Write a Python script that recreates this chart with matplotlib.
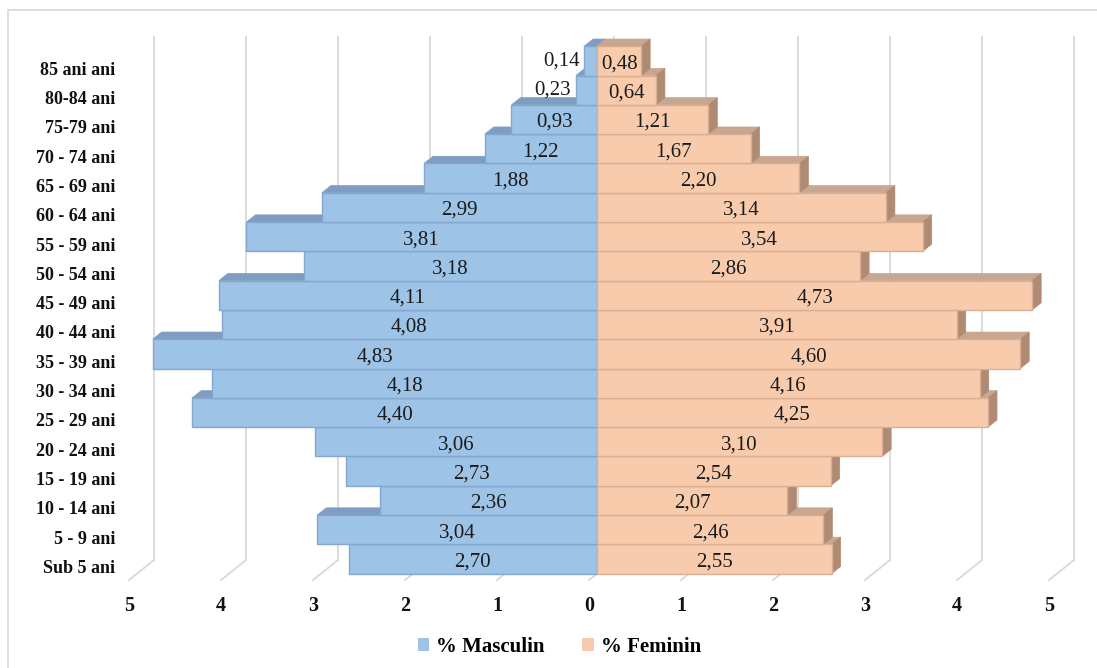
import matplotlib
matplotlib.use("Agg")
import matplotlib.pyplot as plt
from matplotlib.patches import Polygon, Rectangle, Patch

# Age groups, bottom to top
categories = ["Sub 5 ani", "5 - 9 ani", "10 - 14 ani", "15 - 19 ani", "20 - 24 ani",
              "25 - 29 ani", "30 - 34 ani", "35 - 39 ani", "40 - 44 ani", "45 - 49 ani",
              "50 - 54 ani", "55 - 59 ani", "60 - 64 ani", "65 - 69 ani", "70 - 74 ani",
              "75-79 ani", "80-84 ani", "85 ani ani"]
masculin = [2.70, 3.04, 2.36, 2.73, 3.06, 4.40, 4.18, 4.83, 4.08, 4.11,
            3.18, 3.81, 2.99, 1.88, 1.22, 0.93, 0.23, 0.14]
feminin = [2.55, 2.46, 2.07, 2.54, 3.10, 4.25, 4.16, 4.60, 3.91, 4.73,
           2.86, 3.54, 3.14, 2.20, 1.67, 1.21, 0.64, 0.48]
tick_values = [-5, -4, -3, -2, -1, 0, 1, 2, 3, 4, 5]
series_names = ["% Masculin", "% Feminin"]

# colours: front, top, side, edge
BLUE = ("#9DC3E6", "#7F9DC2", "#6F8DB3", "#84A7CF")
ORANGE = ("#F8CBAD", "#C9A68F", "#B08B74", "#D9AE93")
GRID = "#D9D9D9"

SERIF = "Liberation Serif"

fig = plt.figure(figsize=(10.97, 6.68), dpi=100)
ax = fig.add_axes([0, 0, 1, 1])
px_per_unit = 92.0
px_per_row = 29.3
x0_px, y0_px = 597.0, 559.0
ax.set_xlim(-x0_px / px_per_unit, (1097 - x0_px) / px_per_unit)
ax.set_ylim((y0_px - 668) / px_per_row, y0_px / px_per_row)
ax.axis("off")

# oblique depth: full depth vector (floor front -> back wall), in data units
DX, DY = 25 / px_per_unit, 20 / px_per_row
T_FRONT, T_BACK = 0.32, 0.68


def shift(t):
    """offset of depth t relative to the bars' front plane"""
    return (t - T_FRONT) * DX, (t - T_FRONT) * DY


n = len(categories)
# back wall gridlines and floor lines
wx, wy = shift(1.0)
fx, fy = shift(0.0)
y_bottom = -0.5
y_top = n - 0.5 + 0.34
for v in tick_values:
    ax.plot([v + wx, v + wx], [y_bottom + wy, y_top], color=GRID, lw=1.3, zorder=1,
            solid_capstyle="butt")
    ax.plot([v + wx, v + fx], [y_bottom + wy, y_bottom + fy], color=GRID, lw=1.3,
            zorder=1)

bx, by = shift(T_BACK)
z = 2
for i in range(n):
    lo, hi = i - 0.5, i + 0.5
    # male bar (extends left)
    m = -masculin[i]
    front, top, side, edge = BLUE
    ax.add_patch(Polygon([(m, hi), (0, hi), (bx, hi + by), (m + bx, hi + by)],
                         closed=True, fc=top, ec=top, lw=0.5, zorder=z))
    ax.add_patch(Rectangle((m, lo), -m, 1, fc=front, ec=edge, lw=1.0, zorder=z + 1))
    # female bar (extends right)
    f = feminin[i]
    front, top, side, edge = ORANGE
    ax.add_patch(Polygon([(0, hi), (f, hi), (f + bx, hi + by), (bx, hi + by)],
                         closed=True, fc=top, ec=top, lw=0.5, zorder=z))
    ax.add_patch(Polygon([(f, lo), (f + bx, lo + by), (f + bx, hi + by), (f, hi)],
                         closed=True, fc=side, ec=side, lw=0.5, zorder=z))
    ax.add_patch(Rectangle((0, lo), f, 1, fc=front, ec=edge, lw=1.0, zorder=z + 1))
    z += 2

# value labels
label_z = z + 5
for i in range(n):
    m, f = masculin[i], feminin[i]
    mt = f"{m:.2f}".replace(".", ",")
    ft = f"{f:.2f}".replace(".", ",")
    if m < 0.3:
        ax.text(-m - 0.05, i + 0.0, mt, ha="right", va="center", fontsize=15,
                family=SERIF, color="#1a1a1a", zorder=label_z)
    else:
        ax.text(-m / 2, i - 0.1, mt, ha="center", va="center", fontsize=15,
                family=SERIF, color="#1a1a1a", zorder=label_z)
    ax.text(f / 2, i - 0.1, ft, ha="center", va="center", fontsize=15,
            family=SERIF, color="#1a1a1a", zorder=label_z)

# category labels
cat_x = (115 - x0_px) / px_per_unit
for i, c in enumerate(categories):
    ax.text(cat_x, i + fy - 0.1, c, ha="right", va="center", fontsize=13,
            fontweight="bold", family=SERIF, color="#111111")

# value axis tick labels on the floor front edge
tick_y = (y0_px - 606) / px_per_row
for v in tick_values:
    ax.text(v + fx, tick_y, str(abs(v)), ha="center", va="center", fontsize=14.5,
            fontweight="bold", family=SERIF, color="#111111")

# chart area border
ax.add_patch(Rectangle((8 / 1097, -0.2), 1.2, 1 - 10 / 668 + 0.2, transform=ax.transAxes,
                       fill=False, ec="#D9D9D9", lw=1.2, zorder=0))

handles = [Patch(fc=BLUE[0], ec="none"), Patch(fc=ORANGE[0], ec="none")]
fig.legend(handles, series_names, loc="center", bbox_to_anchor=(0.51, 1 - 647 / 668),
           ncol=2, frameon=False, handlelength=0.55, handleheight=0.55,
           handletextpad=0.35, columnspacing=1.8,
           prop={"family": SERIF, "weight": "bold", "size": 15})

fig.savefig("out.png", dpi=100, facecolor="white")
